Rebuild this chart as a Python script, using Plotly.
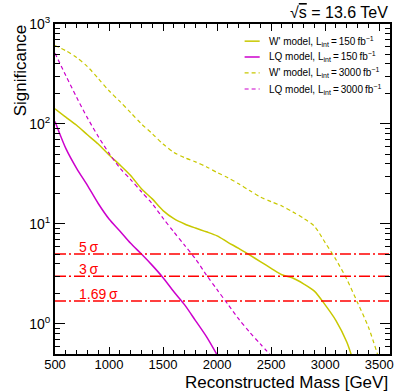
import numpy as np
import plotly.graph_objects as go

# ---------------- data ----------------
mass_wp150 = [500, 600, 700, 800, 900, 1000, 1100, 1200, 1300, 1400, 1500, 1600, 1700, 1800,
              1900, 2000, 2100, 2200, 2300, 2400, 2500, 2600, 2700, 2800, 2900, 3000, 3100, 3200, 3250]
sig_wp150 = [142, 117, 97, 78, 63, 49, 39, 30.5, 22.5, 17.8, 13.6, 11.3, 10.0, 9.1,
             8.35, 7.6, 6.55, 5.7, 4.9, 4.2, 3.6, 3.1, 2.88, 2.52, 2.13, 1.55, 1.08, 0.66, 0.46]

mass_lq150 = [500, 600, 700, 800, 900, 1000, 1100, 1200, 1300, 1400, 1500, 1600, 1700, 1800, 1900, 2000]
sig_lq150 = [106, 57, 36, 24.3, 16, 11.2, 8.5, 6.4, 5.0, 3.85, 2.9, 2.1, 1.55, 1.08, 0.75, 0.49]

mass_wp3000 = [500, 600, 700, 800, 900, 1000, 1100, 1200, 1300, 1400, 1500, 1600, 1700, 1800,
               1900, 2000, 2100, 2200, 2300, 2400, 2500, 2600, 2700, 2800, 2900, 3000, 3100,
               3200, 3300, 3400, 3500]
sig_wp3000 = [610, 540, 462, 375, 285, 215, 168, 130, 100, 80, 63, 52, 46, 41.8,
              37.3, 32.7, 29, 25.2, 21.6, 18.6, 16.7, 15.1, 13.2, 11.4, 9.5, 6.5, 4.4,
              2.8, 1.63, 0.93, 0.44]

mass_lq3000 = [500, 600, 700, 800, 900, 1000, 1100, 1200, 1300, 1400, 1500, 1600, 1700, 1800,
               1900, 2000, 2100, 2200, 2300, 2400, 2500]
sig_lq3000 = [510, 305, 185, 115, 75, 51, 36.3, 27.8, 21, 15.9, 11.4, 8.3, 6.1, 4.47,
              3.1, 2.2, 1.57, 1.12, 0.83, 0.63, 0.48]

thresholds = [5, 3, 1.69]
threshold_labels = ["5\u2009σ", "3\u2009σ", "1.69\u2009σ"]

x_ticks = [500, 1000, 1500, 2000, 2500, 3000, 3500]
y_ticks = [1, 10, 100, 1000]
y_ticktext = ["10<sup>0</sup>", "10<sup>1</sup>", "10<sup>2</sup>", "10<sup>3</sup>"]

legend_labels = ["W' model, L<sub>int</sub>\u2009=\u2009150\u2009fb<sup>−1</sup>",
                 "LQ model, L<sub>int</sub>\u2009=\u2009150\u2009fb<sup>−1</sup>",
                 "W' model, L<sub>int</sub>\u2009=\u20093000\u2009fb<sup>−1</sup>",
                 "LQ model, L<sub>int</sub>\u2009=\u20093000\u2009fb<sup>−1</sup>"]

YEL = "#c8c800"
MAG = "#cc00cc"
FONT = "Liberation Sans, Arial, Helvetica, sans-serif"

fig = go.Figure()

series = [
    (mass_wp150, sig_wp150, YEL, "solid", 1.5),
    (mass_lq150, sig_lq150, MAG, "solid", 1.5),
    (mass_wp3000, sig_wp3000, YEL, "4px,3px", 1.2),
    (mass_lq3000, sig_lq3000, MAG, "4px,3px", 1.2),
]
for (xs, ys, c, d, w), lab in zip(series, legend_labels):
    fig.add_trace(go.Scatter(x=xs, y=ys, mode="lines", name=lab,
                             line=dict(color=c, dash=d, width=w, shape="spline", smoothing=0.8),
                             showlegend=False))

xr = [500, 3600]
for t in thresholds:
    fig.add_trace(go.Scatter(x=xr, y=[t, t], mode="lines",
                             line=dict(color="#ff0000", width=1.5, dash="11px,3px,2px,3px"),
                             showlegend=False))

annotations = []
for t, lab in zip(thresholds, threshold_labels):
    annotations.append(dict(x=700, y=np.log10(t), xref="x", yref="y", text=lab,
                            showarrow=False, xanchor="left", yanchor="bottom", yshift=-3,
                            font=dict(color="#ff0000", size=14, family=FONT)))

# legend (manual, ROOT style)
shapes = []
leg_y = [0.948, 0.900, 0.852, 0.803]
for (xs, ys, c, d, w), lab, yy in zip(series, legend_labels, leg_y):
    shapes.append(dict(type="line", xref="paper", yref="paper", x0=0.566, x1=0.611,
                       y0=yy, y1=yy, line=dict(color=c, width=w if d == "solid" else 1.2,
                                                dash="solid" if d == "solid" else "4px,3px")))
    annotations.append(dict(x=0.634, y=yy, xref="paper", yref="paper", text=lab,
                            showarrow=False, xanchor="left", yanchor="middle",
                            font=dict(size=10, color="black", family=FONT)))

annotations.append(dict(x=1.0, y=1.036, xref="paper", yref="paper",
                        text="√<span style='text-decoration:overline'>s</span> = 13.6 TeV",
                        showarrow=False, xanchor="right", yanchor="middle",
                        font=dict(size=16, color="black", family=FONT)))
annotations.append(dict(x=1.0, y=-0.085, xref="paper", yref="paper",
                        text="Reconstructed Mass [GeV]", showarrow=False,
                        xanchor="right", yanchor="middle",
                        font=dict(size=17, color="black", family=FONT)))
annotations.append(dict(x=-0.103, y=0.861, xref="paper", yref="paper",
                        text="Significance", showarrow=False, textangle=-90,
                        xanchor="center", yanchor="middle",
                        font=dict(size=17, color="black", family=FONT)))

fig.update_layout(
    width=400, height=391,
    margin=dict(l=55, r=6, t=24, b=37),
    plot_bgcolor="white", paper_bgcolor="white",
    font=dict(family=FONT, color="black"),
    showlegend=False,
    annotations=annotations, shapes=shapes,
    xaxis=dict(range=xr, tickmode="array", tickvals=x_ticks, ticks="inside", ticklen=7,
               tickwidth=1, tickcolor="black", mirror="allticks", showline=True,
               linewidth=2, linecolor="black", showgrid=False, zeroline=False,
               tickfont=dict(size=13), ticklabelstandoff=-3,
               minor=dict(ticks="inside", ticklen=4, tickwidth=1, tickcolor="black",
                          dtick=100, tick0=500, showgrid=False)),
    yaxis=dict(type="log", range=[np.log10(0.5), 3], tickmode="array", tickvals=y_ticks,
               ticktext=y_ticktext, ticks="inside", ticklen=10, tickwidth=1,
               tickcolor="black", mirror="allticks", showline=True, linewidth=2,
               linecolor="black", showgrid=False, zeroline=False,
               tickfont=dict(size=14),
               minor=dict(ticks="inside", ticklen=5, tickwidth=1, tickcolor="black",
                          tickmode="array",
                          tickvals=[0.5, 0.6, 0.7, 0.8, 0.9] +
                                   [m * 10 ** e for e in range(0, 3) for m in range(2, 10)],
                          showgrid=False)),
)

fig.write_html("out.html")
